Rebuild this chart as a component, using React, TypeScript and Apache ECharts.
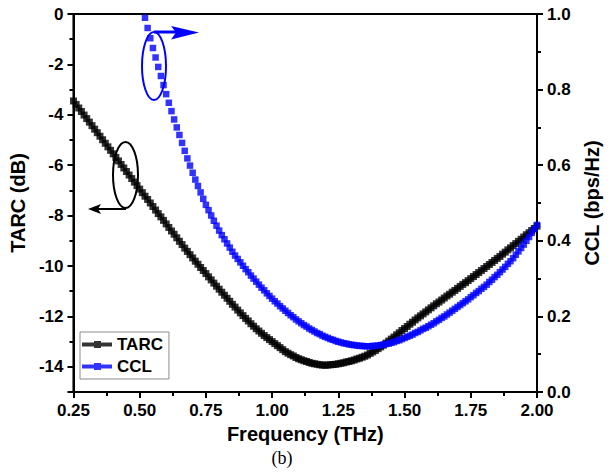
import React, { useEffect, useRef } from 'react';
import * as echarts from 'echarts';

// Frequency sampling (THz)
const STEP = 0.01;
const TARC_START = 0.25;
const CCL_START = 0.52;

// TARC (dB), 0.25 .. 2.00 THz
const tarcValues = [
  -3.45, -3.59, -3.73, -3.87, -4.01, -4.15, -4.29, -4.43, -4.57, -4.71,
  -4.85, -4.99, -5.13, -5.27, -5.41, -5.55, -5.69, -5.83, -5.97, -6.11,
  -6.25, -6.39, -6.53, -6.67, -6.81, -6.95, -7.09, -7.23, -7.36, -7.5,
  -7.64, -7.78, -7.92, -8.05, -8.19, -8.33, -8.47, -8.61, -8.74, -8.88,
  -9.02, -9.15, -9.29, -9.42, -9.55, -9.68, -9.81, -9.93, -10.06, -10.18,
  -10.3, -10.43, -10.55, -10.68, -10.8, -10.92, -11.04, -11.16, -11.28, -11.4,
  -11.52, -11.63, -11.75, -11.86, -11.97, -12.08, -12.18, -12.29, -12.39, -12.49,
  -12.58, -12.67, -12.76, -12.84, -12.92, -13.0, -13.08, -13.16, -13.24, -13.32,
  -13.4, -13.46, -13.52, -13.57, -13.63, -13.68, -13.72, -13.76, -13.79, -13.83,
  -13.86, -13.88, -13.9, -13.92, -13.93, -13.94, -13.93, -13.92, -13.91, -13.9,
  -13.88, -13.86, -13.84, -13.81, -13.79, -13.76, -13.73, -13.69, -13.66, -13.62,
  -13.58, -13.53, -13.47, -13.41, -13.35, -13.28, -13.21, -13.14, -13.06, -12.98,
  -12.9, -12.82, -12.73, -12.65, -12.56, -12.48, -12.4, -12.31, -12.23, -12.14,
  -12.06, -11.98, -11.9, -11.82, -11.74, -11.66, -11.58, -11.5, -11.43, -11.35,
  -11.27, -11.19, -11.12, -11.04, -10.97, -10.89, -10.81, -10.73, -10.66, -10.58,
  -10.5, -10.42, -10.34, -10.26, -10.18, -10.1, -10.02, -9.94, -9.86, -9.78,
  -9.7, -9.62, -9.53, -9.45, -9.36, -9.28, -9.19, -9.11, -9.02, -8.94,
  -8.85, -8.76, -8.68, -8.59, -8.51, -8.42,
];

// CCL (bps/Hz), 0.52 .. 2.00 THz
const cclValues = [
  0.99, 0.963, 0.936, 0.91, 0.885, 0.86, 0.836, 0.812, 0.788, 0.765,
  0.743, 0.721, 0.7, 0.68, 0.659, 0.638, 0.618, 0.599, 0.58, 0.562,
  0.545, 0.528, 0.511, 0.495, 0.481, 0.467, 0.453, 0.44, 0.427, 0.415,
  0.404, 0.393, 0.382, 0.371, 0.361, 0.352, 0.343, 0.334, 0.325, 0.317,
  0.308, 0.3, 0.292, 0.284, 0.276, 0.269, 0.261, 0.254, 0.247, 0.24,
  0.234, 0.227, 0.221, 0.215, 0.209, 0.203, 0.198, 0.192, 0.187, 0.182,
  0.177, 0.173, 0.168, 0.164, 0.16, 0.156, 0.153, 0.149, 0.146, 0.143,
  0.14, 0.138, 0.135, 0.133, 0.131, 0.129, 0.128, 0.126, 0.125, 0.124,
  0.123, 0.122, 0.122, 0.121, 0.121, 0.121, 0.122, 0.122, 0.123, 0.124,
  0.125, 0.127, 0.128, 0.13, 0.132, 0.135, 0.137, 0.14, 0.143, 0.146,
  0.149, 0.152, 0.156, 0.159, 0.163, 0.167, 0.17, 0.174, 0.178, 0.182,
  0.187, 0.191, 0.196, 0.2, 0.205, 0.21, 0.215, 0.22, 0.225, 0.23,
  0.235, 0.24, 0.245, 0.251, 0.256, 0.262, 0.267, 0.273, 0.278, 0.284,
  0.291, 0.297, 0.304, 0.31, 0.317, 0.324, 0.331, 0.339, 0.346, 0.354,
  0.363, 0.372, 0.381, 0.39, 0.4, 0.41, 0.421, 0.431, 0.442,
];

const seriesNames = ['TARC', 'CCL'];
const seriesColors = ['#000000', '#0000ff'];

const F = '"Liberation Sans", Arial, Helvetica, sans-serif';
const LEGEND_ICON = 'path://M0,1.5 L30,1.5 L30,5.5 L0,5.5 Z M12,0 L19,0 L19,7 L12,7 Z';

function toPairs(start: number, vals: number[]) {
  return vals.map((v, i) => [Math.round((start + i * STEP) * 100) / 100, v]);
}

export default function App() {
  const ref = useRef<HTMLDivElement>(null);
  useEffect(() => {
    if (!ref.current) return;
    const chart = echarts.init(ref.current, undefined, { renderer: 'svg' });
    const axisLineStyle = { color: '#000', width: 2 };
    const nameStyle = { fontFamily: F, fontWeight: 'bold', fontSize: 20, color: '#000' };
    const mkLabel = (fmt: (v: number) => string) => ({
      show: true,
      margin: 10,
      fontFamily: F,
      fontWeight: 'bold',
      fontSize: 17,
      color: '#000',
      formatter: fmt,
    });
    const option: any = {
      animation: false,
      backgroundColor: '#ffffff',
      textStyle: { fontFamily: F, fontWeight: 'bold', fontSize: 17, color: '#000' },
      grid: {
        left: 70, right: 76, top: 14, bottom: 82,
        show: true, borderColor: '#000', borderWidth: 2, backgroundColor: 'transparent',
      },
      legend: {
        orient: 'vertical', left: 80, top: 332,
        data: seriesNames.map((n) => ({ name: n, icon: LEGEND_ICON })),
        itemWidth: 30, itemHeight: 7, itemGap: 5,
        padding: [4, 6, 4, 2],
        borderColor: '#8c8c8c', borderWidth: 1, backgroundColor: '#fff',
        textStyle: { fontFamily: F, fontWeight: 'bold', fontSize: 17, color: '#000' },
      },
      xAxis: {
        type: 'value', min: 0.25, max: 2.0, interval: 0.25,
        name: 'Frequency (THz)', nameLocation: 'middle', nameGap: 30,
        nameTextStyle: nameStyle,
        axisLine: { show: true, onZero: false, lineStyle: axisLineStyle },
        axisTick: { show: true, inside: false, length: 6, lineStyle: axisLineStyle },
        minorTick: { show: true, splitNumber: 2, length: 4, lineStyle: axisLineStyle },
        axisLabel: mkLabel((v: number) => v.toFixed(2)),
        splitLine: { show: false },
      },
      yAxis: [
        {
          type: 'value', position: 'left', min: -15, max: 0, splitNumber: 7,
          name: 'TARC (dB)', nameLocation: 'middle', nameGap: 36, nameRotate: 90,
          nameTextStyle: nameStyle,
          axisLine: { show: true, onZero: false, lineStyle: axisLineStyle },
          axisTick: { show: true, inside: false, length: 6, lineStyle: axisLineStyle },
          minorTick: { show: true, splitNumber: 2, length: 4, lineStyle: axisLineStyle },
          axisLabel: mkLabel((v: number) => (v === -15 ? '' : String(v))),
          splitLine: { show: false },
        },
        {
          type: 'value', position: 'right', min: 0, max: 1, interval: 0.2,
          name: 'CCL (bps/Hz)', nameLocation: 'middle', nameGap: 40, nameRotate: 90,
          nameTextStyle: nameStyle,
          axisLine: { show: true, onZero: false, lineStyle: axisLineStyle },
          axisTick: { show: true, inside: false, length: 6, lineStyle: axisLineStyle },
          minorTick: { show: true, splitNumber: 2, length: 4, lineStyle: axisLineStyle },
          axisLabel: mkLabel((v: number) => v.toFixed(1)),
          splitLine: { show: false },
        },
      ],
      series: [
        {
          name: seriesNames[0], type: 'scatter', yAxisIndex: 0,
          data: toPairs(TARC_START, tarcValues),
          symbol: 'rect', symbolSize: 7, itemStyle: { color: seriesColors[0] }, z: 2,
        },
        {
          name: seriesNames[1], type: 'scatter', yAxisIndex: 1,
          data: toPairs(CCL_START, cclValues),
          symbol: 'rect', symbolSize: 6.5, itemStyle: { color: seriesColors[1] }, z: 3,
        },
      ],
      graphic: [
        // TARC annotation (points to left axis)
        { type: 'ellipse', shape: { cx: 125.5, cy: 175, rx: 12.5, ry: 33 }, style: { fill: 'none', stroke: '#000', lineWidth: 2 }, z: 10 },
        { type: 'line', shape: { x1: 126, y1: 209, x2: 97, y2: 209 }, style: { stroke: '#000', lineWidth: 2 }, z: 10 },
        { type: 'polygon', shape: { points: [[88, 209], [101, 204], [98, 209], [101, 214]] }, style: { fill: '#000' }, z: 10 },
        // CCL annotation (points to right axis)
        { type: 'ellipse', shape: { cx: 154, cy: 66, rx: 12, ry: 34 }, style: { fill: 'none', stroke: '#0000ff', lineWidth: 2 }, z: 10 },
        { type: 'line', shape: { x1: 154, y1: 32, x2: 178, y2: 32 }, style: { stroke: '#0000ff', lineWidth: 3 }, z: 10 },
        { type: 'polygon', shape: { points: [[199, 32.5], [171, 26], [176, 32.5], [171, 39.5]] }, style: { fill: '#0000ff' }, z: 10 },
        // panel caption
        {
          type: 'text', x: 282, y: 458,
          style: { text: '(b)', font: '18px "Liberation Serif", "Times New Roman", serif', fill: '#000', textAlign: 'center', textVerticalAlign: 'middle' },
        },
      ],
    };
    chart.setOption(option);
    return () => chart.dispose();
  }, []);
  return <div ref={ref} style={{ position: 'absolute', left: 0, top: 0, width: 613, height: 474 }} />;
}
